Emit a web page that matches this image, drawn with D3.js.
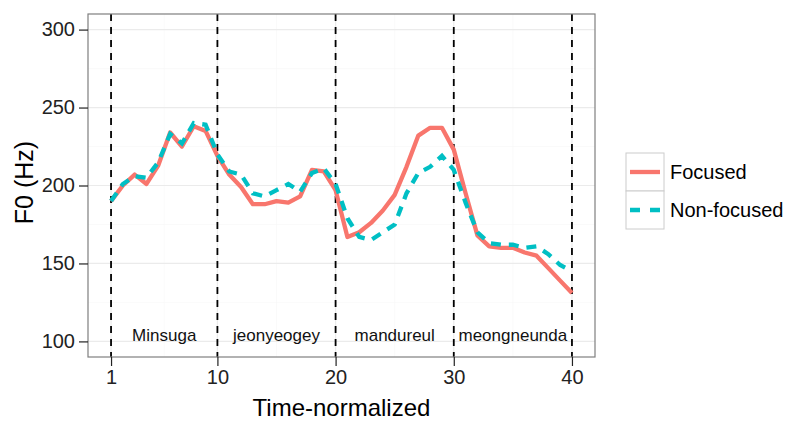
<!DOCTYPE html>
<html>
<head>
  <meta charset="utf-8">
  <title>F0 contour</title>
  <script src="https://d3js.org/d3.v7.min.js"></script>
  <style>
    body { margin: 0; background: #fff; font-family: "Liberation Sans", Arial, sans-serif; }
    .grid line { stroke: #ebebeb; }
    .grid.minor line { stroke: #f6f6f6; }
    .axis path { display: none; }
    .axis line { stroke: #222; stroke-width: 1.2; }
    .axis text { font-size: 20px; fill: #222; }
  </style>
</head>
<body>
  <svg width="792" height="423"></svg>
  <script>
    const time = [1, 2, 3, 4, 5, 6, 7, 8, 9, 10, 11, 12, 13, 14, 15, 16, 17, 18, 19, 20,
                  21, 22, 23, 24, 25, 26, 27, 28, 29, 30, 31, 32, 33, 34, 35, 36, 37, 38, 39, 40];
    const focused = [190, 200, 207, 201, 213, 234, 225, 238, 235, 219,
                     207, 199, 188, 188, 190, 189, 193, 210, 209, 197,
                     167, 170, 176, 184, 194, 212, 232, 237, 237, 223,
                     195, 168, 161, 160, 160, 157, 155, 147, 139, 131];
    const nonFocused = [190, 201, 206, 205, 215, 233, 227, 240, 239, 220,
                        209, 207, 195, 193, 197, 201, 196, 208, 211, 201,
                        179, 167, 165, 170, 175, 195, 208, 212, 219, 210,
                        189, 170, 163, 162, 162, 160, 161, 156, 149, 145];
    const boundaries = [1, 10, 20, 30, 40];
    const xTicks = [1, 10, 20, 30, 40];
    const xMinor = [5.5, 15, 25, 35];
    const yTicks = [100, 150, 200, 250, 300];
    const yMinor = [125, 175, 225, 275];
    const words = ["Minsuga", "jeonyeogey", "mandureul", "meongneunda"];
    const wordPos = [5.5, 15, 25, 35];
    const seriesNames = ["Focused", "Non-focused"];
    const colors = ["#F8766D", "#00BFC4"];

    const svg = d3.select("svg"),
          margin = {top: 14, right: 197, bottom: 66, left: 88},
          width = +svg.attr("width") - margin.left - margin.right,
          height = +svg.attr("height") - margin.top - margin.bottom;

    const g = svg.append("g").attr("transform", `translate(${margin.left},${margin.top})`);

    const x = d3.scaleLinear().domain([1 - 1.95, 40 + 1.95]).range([0, width]);
    const y = d3.scaleLinear().domain([90, 310]).range([height, 0]);

    // grid
    g.append("g").attr("class", "grid minor")
      .selectAll("line").data(yMinor).join("line")
      .attr("x1", 0).attr("x2", width).attr("y1", d => y(d)).attr("y2", d => y(d))
      .attr("stroke-width", 0.6);
    g.append("g").attr("class", "grid minor")
      .selectAll("line").data(xMinor).join("line")
      .attr("y1", 0).attr("y2", height).attr("x1", d => x(d)).attr("x2", d => x(d))
      .attr("stroke-width", 0.6);
    g.append("g").attr("class", "grid")
      .selectAll("line").data(yTicks).join("line")
      .attr("x1", 0).attr("x2", width).attr("y1", d => y(d)).attr("y2", d => y(d))
      .attr("stroke-width", 1.2);
    g.append("g").attr("class", "grid")
      .selectAll("line").data(xTicks).join("line")
      .attr("y1", 0).attr("y2", height).attr("x1", d => x(d)).attr("x2", d => x(d))
      .attr("stroke-width", 1.2);

    // segment boundaries
    g.append("g").selectAll("line").data(boundaries).join("line")
      .attr("x1", d => x(d)).attr("x2", d => x(d)).attr("y1", 0).attr("y2", height)
      .attr("stroke", "#000").attr("stroke-width", 1.8).attr("stroke-dasharray", "7,6");

    // word labels
    g.append("g").selectAll("text").data(words).join("text")
      .attr("x", (d, i) => x(wordPos[i]))
      .attr("y", y(104))
      .attr("dy", "0.35em")
      .attr("text-anchor", "middle")
      .style("font-size", "17px")
      .style("fill", "#111")
      .text(d => d);

    const line = d3.line()
      .x((d, i) => x(time[i]))
      .y(d => y(d));

    g.append("path").datum(focused)
      .attr("fill", "none").attr("stroke", colors[0]).attr("stroke-width", 4.3)
      .attr("stroke-linejoin", "round")
      .attr("d", line);
    g.append("path").datum(nonFocused)
      .attr("fill", "none").attr("stroke", colors[1]).attr("stroke-width", 4.3)
      .attr("stroke-dasharray", "10,8")
      .attr("d", line);

    // panel border
    g.append("rect").attr("width", width).attr("height", height)
      .attr("fill", "none").attr("stroke", "#7f7f7f").attr("stroke-width", 1.2);

    // axes
    g.append("g").attr("class", "axis x")
      .attr("transform", `translate(0,${height})`)
      .call(d3.axisBottom(x).tickValues(xTicks).tickSize(9).tickPadding(4).tickFormat(d3.format("d")));
    g.append("g").attr("class", "axis y")
      .call(d3.axisLeft(y).tickValues(yTicks).tickSize(9).tickPadding(4));

    svg.append("text")
      .attr("x", margin.left + width / 2).attr("y", 416)
      .attr("text-anchor", "middle").style("font-size", "24px").style("fill", "#000")
      .text("Time-normalized");
    svg.append("text")
      .attr("transform", `translate(33,${margin.top + height / 2 - 3}) rotate(-90)`)
      .attr("text-anchor", "middle").style("font-size", "25px").style("fill", "#000")
      .text("F0 (Hz)");

    // legend
    const legend = svg.append("g").attr("transform", "translate(626,153)");
    const key = legend.selectAll("g").data(seriesNames).join("g")
      .attr("transform", (d, i) => `translate(0,${i * 38})`);
    key.append("rect").attr("width", 38).attr("height", 38)
      .attr("fill", "#fff").attr("stroke", "#cccccc").attr("stroke-width", 1);
    key.append("line")
      .attr("x1", 4).attr("x2", 34).attr("y1", 19).attr("y2", 19)
      .attr("stroke", (d, i) => colors[i]).attr("stroke-width", 4.3)
      .attr("stroke-dasharray", (d, i) => i === 1 ? "10,10" : null);
    key.append("text")
      .attr("x", 44).attr("y", 19).attr("dy", "0.36em")
      .style("font-size", "20px").style("fill", "#000")
      .text(d => d);
  </script>
</body>
</html>
